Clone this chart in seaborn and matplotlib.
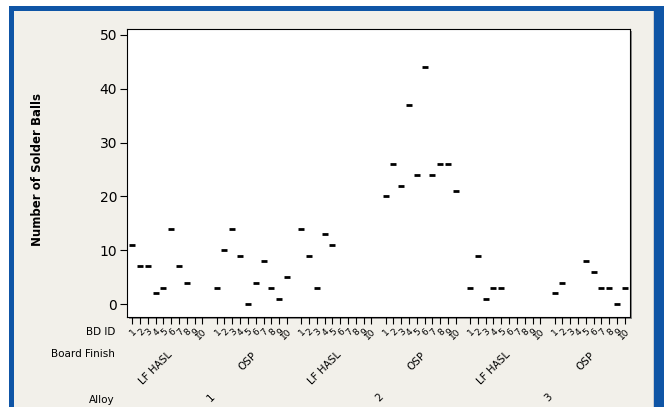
import numpy as np
import pandas as pd

import matplotlib

matplotlib.use("Agg")
import seaborn as sns
import matplotlib.pyplot as plt
from matplotlib.patches import Rectangle
from matplotlib.transforms import blended_transform_factory

alloys = ["1", "2", "3"]
finishes = ["LF HASL", "OSP"]
bd_ids = ["1", "2", "3", "4", "5", "6", "7", "8", "9", "10"]

nan = np.nan
# solder ball counts per board, NaN = no board
alloy1_lf_hasl = [11, 7, 7, 2, 3, 14, 7, 4, nan, nan]
alloy1_osp = [3, 10, 14, 9, 0, 4, 8, 3, 1, 5]
alloy2_lf_hasl = [14, 9, 3, 13, 11, nan, nan, nan, nan, nan]
alloy2_osp = [20, 26, 22, 37, 24, 44, 24, 26, 26, 21]
alloy3_lf_hasl = [3, 9, 1, 3, 3, nan, nan, nan, nan, nan]
alloy3_osp = [2, 4, nan, nan, 8, 6, 3, 3, 0, 3]

groups = [alloy1_lf_hasl, alloy1_osp, alloy2_lf_hasl,
          alloy2_osp, alloy3_lf_hasl, alloy3_osp]

GROUP_STRIDE = 10.8  # slots between group starts (Minitab puts a gap)

rows = []
for g, vals in enumerate(groups):
    for i, v in enumerate(vals):
        rows.append({
            "alloy": alloys[g // 2],
            "finish": finishes[g % 2],
            "bd": bd_ids[i],
            "pos": g * GROUP_STRIDE + i,
            "count": v,
        })
df = pd.DataFrame(rows)

sns.set_style("ticks")
plt.rcParams["font.family"] = ["DejaVu Sans"]
plt.rcParams["text.color"] = "black"
plt.rcParams["xtick.color"] = "black"
plt.rcParams["ytick.color"] = "black"
plt.rcParams["axes.labelcolor"] = "black"

W, H = 664, 407
fig = plt.figure(figsize=(W / 100, H / 100), dpi=100)
fig.patch.set_facecolor("white")

# blue frame + beige panel
blue = "#0F55A6"
beige = "#F2F0EA"
fig.patches.append(Rectangle((9 / W, 0), 1, 1 - 6 / H, transform=fig.transFigure,
                             facecolor=blue, edgecolor="none", zorder=-3))
fig.patches.append(Rectangle((14 / W, 0), (654 - 14) / W, 1 - 11 / H,
                             transform=fig.transFigure, facecolor=beige,
                             edgecolor="none", zorder=-2))
fig.patches.append(Rectangle((653 / W, 0), 1 / W, 1 - 11 / H,
                             transform=fig.transFigure, facecolor="#C9CDD3",
                             edgecolor="none", zorder=-2))

left, right, top, bottom = 127, 630, 29, 317
# plot shadow
fig.patches.append(Rectangle(((left + 2) / W, 1 - (bottom + 2) / H),
                             (right - left) / W, (bottom - top) / H,
                             transform=fig.transFigure, facecolor="#8A8A8A",
                             edgecolor="none", zorder=-1))
ax = fig.add_axes([left / W, 1 - bottom / H, (right - left) / W, (bottom - top) / H])
ax.set_facecolor("white")

sns.scatterplot(data=df, x="pos", y="count", marker="_", s=16, linewidth=2,
                color="black", ax=ax, legend=False)

ax.set_xlim(-0.65, 5 * GROUP_STRIDE + 9 + 0.65)
ax.set_ylim(-2.4, 51.1)
ax.set_yticks([0, 10, 20, 30, 40, 50])
ax.tick_params(axis="y", labelsize=10, length=5, width=0.8, pad=2)
ax.set_xticks(df["pos"])
ax.set_xticklabels(df["bd"], rotation=45, ha="right", rotation_mode="anchor",
                   fontsize=6.5)
ax.tick_params(axis="x", length=5, width=0.8, pad=2)
for s in ax.spines.values():
    s.set_linewidth(0.8)
    s.set_color("black")
ax.set_xlabel("")
ax.set_ylabel("")

fig.text(38 / W, 1 - 170 / H, "Number of Solder Balls", rotation=90,
         ha="center", va="center", fontsize=8.5, fontweight="bold")

# grouping rows below the axis
fig.text(115 / W, 1 - 332 / H, "BD ID", ha="right", va="center", fontsize=7.5)
fig.text(115 / W, 1 - 354 / H, "Board Finish", ha="right", va="center", fontsize=7.5)
fig.text(115 / W, 1 - 400 / H, "Alloy", ha="right", va="center", fontsize=7.5)

trans = blended_transform_factory(ax.transData, fig.transFigure)
for g in range(len(groups)):
    cx = g * GROUP_STRIDE + 4.5
    ax.text(cx, 1 - 350 / H, finishes[g % 2], transform=trans, rotation=45,
            ha="right", va="top", rotation_mode="anchor", fontsize=7.5,
            clip_on=False)
for a in range(len(alloys)):
    cx = (2 * a * GROUP_STRIDE + (2 * a + 1) * GROUP_STRIDE + 9) / 2
    ax.text(cx, 1 - 392 / H, alloys[a], transform=trans, rotation=45,
            ha="right", va="top", rotation_mode="anchor", fontsize=7.5,
            clip_on=False)

fig.savefig("out.png", dpi=100)
plt.close(fig)
